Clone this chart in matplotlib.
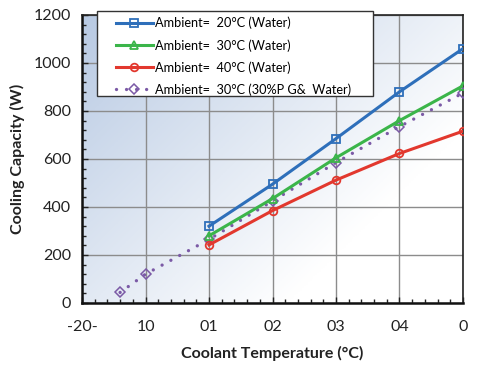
import numpy as np
import matplotlib.pyplot as plt
from matplotlib.ticker import MultipleLocator
from matplotlib.patches import Rectangle

plt.rcParams['font.family'] = ['Lato', 'DejaVu Sans']

# Données
temp_water = [10, 20, 30, 40, 50]
cap_20 = [320, 495, 685, 880, 1060]
cap_30 = [280, 435, 605, 760, 905]
cap_40 = [242, 385, 512, 623, 716]
temp_pg = [-4, 0, 10, 20, 30, 40, 50]
cap_pg = [44, 120, 265, 425, 585, 735, 875]

x_ticks = [-10, 0, 10, 20, 30, 40, 50]
x_labels = ['-20-', '10', '01', '02', '03', '04', '0']
y_ticks = [0, 200, 400, 600, 800, 1000, 1200]

labels = ['Ambient=  20°C (Water)', 'Ambient=  30°C (Water)',
          'Ambient=  40°C (Water)', 'Ambient=  30°C (30%P G&  Water)']

W, H = 479, 372
fig = plt.figure(figsize=(W / 100, H / 100), dpi=100)
ax = fig.add_axes([82 / W, 1 - 303 / H, (463 - 82) / W, (303 - 15) / H])

# Fond en dégradé (bleu en haut à gauche -> blanc en bas à droite)
gx, gy = np.meshgrid(np.linspace(0, 1, 200), np.linspace(0, 1, 200))
t = np.clip((1.3 * gx + gy) / 1.7, 0, 1)
c0 = np.array([0.72, 0.79, 0.89])
c1 = np.array([1.0, 1.0, 1.0])
img = c0[None, None, :] * (1 - t[..., None]) + c1[None, None, :] * t[..., None]
ax.imshow(img, extent=[0, 1, 0, 1], transform=ax.transAxes, aspect='auto',
          zorder=0, origin='upper')

ax.plot(temp_water, cap_20, color='#2e6fba', lw=2.2, marker='s', ms=5.5,
        mfc='none', mew=1.3, label=labels[0], zorder=4)
ax.plot(temp_water, cap_30, color='#3bb54a', lw=2.2, marker='^', ms=6,
        mfc='none', mew=1.3, label=labels[1], zorder=4)
ax.plot(temp_water, cap_40, color='#e2382e', lw=2.2, marker='o', ms=5.5,
        mfc='none', mew=1.3, label=labels[2], zorder=4)
ax.plot(temp_pg, cap_pg, color='#7b5aa6', lw=2.4, ls=(0, (0.01, 3.0)),
        dash_capstyle='round', marker='D', ms=5.5, mfc='none', mew=1.1,
        label=labels[3], zorder=3)

ax.set_xlim(-10, 50)
ax.set_ylim(0, 1200)
ax.set_xticks(x_ticks)
ax.set_xticklabels(x_labels)
ax.set_yticks(y_ticks)
ax.xaxis.set_minor_locator(MultipleLocator(2))
ax.yaxis.set_minor_locator(MultipleLocator(40))
ax.tick_params(which='both', direction='in', length=4, width=1, colors='#222222',
               labelcolor='#222222', labelsize=11.5, pad=8)
ax.tick_params(which='minor', length=3)
ax.tick_params(axis='x', pad=12)
ax.grid(True, which='major', color='#8c8c8c', lw=1, zorder=1)
ax.set_axisbelow(True)
for side in ['left', 'bottom']:
    ax.spines[side].set_linewidth(1.8)
    ax.spines[side].set_color('#111111')
for side in ['top', 'right']:
    ax.spines[side].set_linewidth(1.2)
    ax.spines[side].set_color('#222222')

ax.set_xlabel('Coolant Temperature (°C)', fontsize=11.5, fontweight='bold',
              color='#222222', labelpad=9)
ax.set_ylabel('Cooling Capacity (W)', fontsize=11.5, fontweight='bold',
              color='#222222', labelpad=6)

# Cadre de la légende dessiné à part (marges plus larges à gauche/droite)
box = Rectangle((97 / W, 1 - 96 / H), (373 - 97) / W, (96 - 11) / H,
                transform=fig.transFigure, facecolor='white',
                edgecolor='#333333', lw=1.0, zorder=9)
fig.add_artist(box)
leg = fig.legend(*ax.get_legend_handles_labels(), loc='upper left',
                 bbox_to_anchor=(112 / W, 1 - 13 / H),
                 bbox_transform=fig.transFigure, fontsize=9.2, frameon=False,
                 handlelength=2.9, handletextpad=0.15, borderpad=0.3,
                 labelspacing=0.75, borderaxespad=0)
leg.set_zorder(10)

fig.savefig('out.png', dpi=100)
